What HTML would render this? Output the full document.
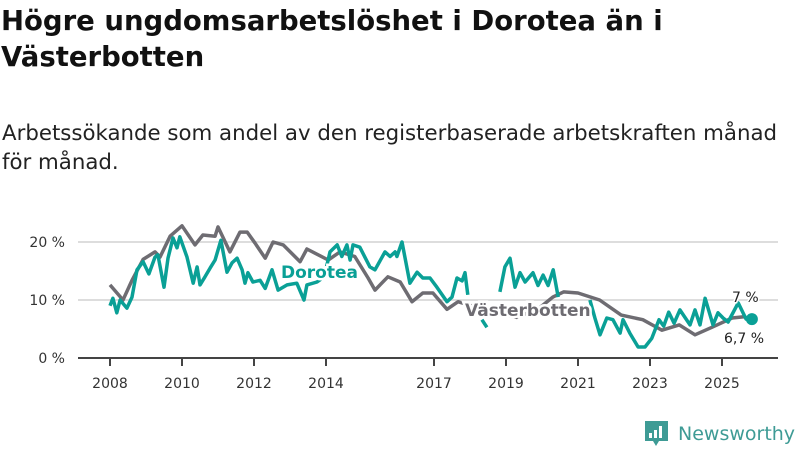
<!DOCTYPE html>
<html><head><meta charset="utf-8">
<style>
body{margin:0;width:800px;height:450px;overflow:hidden;background:#fff;font-family:"DejaVu Sans","Liberation Sans",sans-serif;}
h1{position:absolute;left:1px;top:3px;margin:0;font-size:27.5px;line-height:36px;font-weight:bold;color:#111;width:720px;}
p{position:absolute;left:2px;top:119px;margin:0;font-size:21.3px;line-height:29px;color:#222;width:790px;}
svg{position:absolute;left:0;top:0;}
</style></head><body>
<h1>Högre ungdomsarbetslöshet i Dorotea än i Västerbotten</h1>
<p>Arbetssökande som andel av den registerbaserade arbetskraften månad för månad.</p>
<svg id="chart" width="800" height="450"></svg>
<script>
const yTicks=[0,10,20];
const yTickLabels=["0 %","10 %","20 %"];
const xTicks=[2008,2010,2012,2014,2017,2019,2021,2023,2025];
const vbYears=[2008.0,2008.36,2008.61,2008.92,2009.25,2009.39,2009.67,2010.0,2010.36,2010.58,2010.92,2011.0,2011.33,2011.61,2011.81,2012.03,2012.31,2012.53,2012.81,2013.28,2013.47,2014.06,2014.39,2014.8,2015.17,2015.36,2015.72,2016.06,2016.39,2016.69,2016.97,2017.36,2017.67,2018.3,2018.9,2019.3,2019.9,2020.3,2020.6,2021.0,2021.6,2022.2,2022.8,2023.06,2023.33,2023.81,2024.25,2024.72,2025.28,2025.61,2025.78];
const vbValues=[12.6,10,13.4,17,18.3,17.4,21,22.8,19.5,21.2,21,22.6,18.3,21.7,21.7,19.8,17.2,20,19.5,16.6,18.8,16.9,18.3,17.5,13.8,11.7,14,13.1,9.7,11.2,11.2,8.4,9.7,8.5,7.5,7,8.5,10.5,11.4,11.2,10,7.4,6.6,5.7,4.8,5.7,4,5.3,6.9,7.1,6.7];
const doYears=[2008.0,2008.08,2008.19,2008.28,2008.47,2008.61,2008.75,2008.92,2009.08,2009.25,2009.33,2009.5,2009.61,2009.75,2009.86,2009.94,2010.14,2010.31,2010.42,2010.5,2010.64,2010.78,2010.92,2011.08,2011.25,2011.39,2011.53,2011.67,2011.75,2011.83,2011.97,2012.17,2012.31,2012.5,2012.67,2012.92,2013.19,2013.39,2013.47,2013.75,2013.95,2014.11,2014.31,2014.44,2014.58,2014.67,2014.75,2014.94,2015.22,2015.36,2015.64,2015.78,2015.92,2015.97,2016.11,2016.33,2016.53,2016.69,2016.89,2017.08,2017.36,2017.5,2017.64,2017.78,2017.86,2017.94,2018.0,2018.33,2018.47,2018.55,2018.83,2018.97,2019.11,2019.25,2019.39,2019.53,2019.75,2019.89,2020.03,2020.17,2020.31,2020.45,2020.53,2020.6,2021.33,2021.47,2021.61,2021.8,2021.97,2022.17,2022.25,2022.44,2022.67,2022.86,2023.05,2023.25,2023.38,2023.52,2023.67,2023.83,2024.11,2024.25,2024.39,2024.53,2024.75,2024.89,2025.03,2025.17,2025.45,2025.67,2025.83];
const doValues=[9,10.3,7.8,10,8.6,10.5,15.2,16.6,14.5,17.4,17.8,12.2,17.2,20.7,19,20.9,17.4,12.9,15.7,12.6,14,15.5,16.9,20.3,14.8,16.4,17.2,15.2,12.9,14.7,13.1,13.4,12,15.2,11.7,12.6,12.9,10,12.6,13.1,14,18.3,19.5,17.5,19.5,16.9,19.5,19.1,15.7,15.2,18.3,17.5,18.3,17.5,20,12.9,14.8,13.8,13.8,12.2,9.7,10.5,13.8,13.3,14.7,10.9,null,6.6,5.3,null,11.4,15.7,17.2,12.2,14.7,13.1,14.7,12.5,14.3,12.5,15.2,10.5,null,null,10,6.9,4,6.9,6.6,4.3,6.6,4.3,1.9,1.9,3.4,6.6,5.5,7.9,6,8.3,5.7,8.3,5.7,10.3,5.7,7.8,6.9,6.2,9.5,6.7,6.7];
const NS="http://www.w3.org/2000/svg";
const FF='DejaVu Sans,Liberation Sans,sans-serif';
const svg=document.getElementById('chart');
const X=y=>110+(y-2008)*36, Y=v=>358-v*5.8;
function mk(t,a,p){const e=document.createElementNS(NS,t);for(const k in a)e.setAttribute(k,a[k]);(p||svg).appendChild(e);return e;}
yTicks.forEach((v,i)=>{
 const g=mk('line',{x1:78,x2:778,y1:Y(v),y2:Y(v),stroke:v===0?'#444':'#ddd','stroke-width':2});
 
 
 const t=mk('text',{x:65,y:Y(v)+5,'text-anchor':'end','font-size':14,fill:'#333','font-family':FF});
 t.textContent=yTickLabels[i];
 
 
});
xTicks.forEach(yr=>{
 const l=mk('line',{x1:X(yr),x2:X(yr),y1:358,y2:366,stroke:'#444','stroke-width':2});
 
 
 const t=mk('text',{x:X(yr),y:388,'text-anchor':'middle','font-size':14,fill:'#333','font-family':FF});
 t.textContent=yr;
 
 
});
function path(xs,vs){let d='',pen=false;xs.forEach((x,i)=>{const v=vs[i];if(v===null){pen=false;return;}d+=(pen?'L':'M')+X(x).toFixed(1)+','+Y(v).toFixed(1);pen=true;});return d;}
const vb=mk('path',{d:path(vbYears,vbValues),fill:'none',stroke:'#6e6c72','stroke-width':3.5,'stroke-linejoin':'round'});


const dl=mk('path',{d:path(doYears,doValues),fill:'none',stroke:'#0aa096','stroke-width':3.5,'stroke-linejoin':'round'});


const dot=mk('circle',{cx:X(doYears[doYears.length-1]),cy:Y(doValues[doValues.length-1]),r:6,fill:'#0aa096'});


function lab(txt,x,y,col,name,size,bold){const t=mk('text',{x:x,y:y,'font-size':size,'font-weight':bold?'bold':'normal',fill:col,stroke:'#fff','stroke-width':bold?5:3,'paint-order':'stroke','font-family':FF});t.textContent=txt;}
lab('Dorotea',281,278,'#0aa096','dorotea-label',17,true);
lab('Västerbotten',465,316,'#6e6c72','vasterbotten-label',17,true);
lab('7 %',732,302,'#222','dorotea-value-label',14,false);
lab('6,7 %',724,343,'#222','vasterbotten-value-label',14,false);
const ic=mk('g',{});


mk('path',{d:'M645,421h23v20h-9l-3,5l-3,-5h-8z',fill:'#3e9b95'},ic);
[[649,433,3,5],[654,430,3,8],[659,426,3,12]].forEach(r=>mk('rect',{x:r[0],y:r[1],width:r[2],height:r[3],fill:'#fff'},ic));
const nw=mk('text',{x:678,y:440,'font-size':19,fill:'#3e9b95','font-family':FF});
nw.textContent='Newsworthy';


</script>
</body></html>
